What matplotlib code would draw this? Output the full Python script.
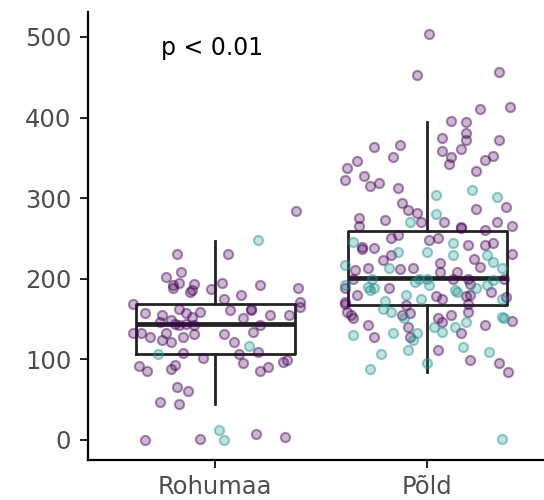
#!/usr/bin/env python3

# Import special modules ...
import matplotlib
matplotlib.use("Agg")
import matplotlib.colors
import matplotlib.pyplot

# Configure matplotlib ...
matplotlib.pyplot.rcParams.update({"font.family" : ["DejaVu Sans"]})

# ******************************************************************************

# Define categories ...
categories = ["Rohumaa", "Põld"]

# Define group colours (0 = purple, 1 = teal) ...
colours = ["#440154", "#21908C"]

# Define Rohumaa points (value, jitter, group) ...
rohu_val = [284, 248, 231, 231, 208, 202, 195, 194, 188, 186, 195, 192, 188, 187, 180, 175,
            168, 171, 165, 163, 158, 159, 161, 161, 155, 155, 155, 153, 149, 151, 146, 142,
            142, 132, 132, 128, 132, 128, 131, 131, 134, 124, 122, 122, 117, 106, 108, 106,
            109, 101, 99, 92, 86, 88, 93, 95, 86, 91, 66, 61, 47, 44, 0, 1, 12, 0, 7, 4,
            192, 184, 157, 144, 142, 163, 144, 97]
rohu_jit = [0.38, 0.20, -0.18, 0.06, -0.16, -0.23, -0.17, -0.10, -0.20, -0.11, 0.03, 0.21, 0.39, -0.02, 0.12, 0.04,
            -0.39, 0.40, 0.40, -0.17, -0.33, -0.07, 0.07, 0.17, 0.26, 0.35, -0.25, -0.11, -0.21, 0.13, -0.26, -0.17,
            0.21, -0.39, -0.35, -0.31, -0.23, -0.15, -0.10, 0.04, 0.18, -0.25, -0.21, 0.09, 0.16, -0.27, -0.15, 0.11,
            0.20, -0.06, 0.34, -0.36, -0.32, -0.21, -0.19, 0.13, 0.21, 0.25, -0.18, -0.13, -0.26, -0.17, -0.33, -0.07, 0.02, 0.04, 0.19, 0.33,
            -0.20, -0.12, -0.14, -0.14, -0.10, 0.17, -0.19, 0.32]
rohu_grp = [0, 1, 0, 0, 0, 0, 0, 0, 0, 0, 0, 0, 0, 0, 0, 0,
            0, 0, 0, 0, 0, 0, 0, 0, 0, 0, 0, 0, 0, 0, 0, 0,
            0, 0, 0, 0, 0, 0, 0, 0, 0, 0, 0, 0, 1, 1, 0, 0,
            0, 0, 0, 0, 0, 0, 0, 0, 0, 0, 0, 0, 0, 0, 0, 0, 1, 1, 0, 0,
            0, 0, 0, 0, 0, 0, 0, 0]

# Define Põld points (value, jitter, group) ...
pold_val = [504, 453, 457, 411, 413, 396, 394, 381, 372, 361, 375, 372, 358, 351, 342, 352,
            347, 334, 366, 363, 351, 346, 337, 322, 328, 315, 319, 312, 294, 304, 310, 301,
            289, 286, 285, 281, 280, 270, 270, 275, 273, 270, 270, 266, 263, 260, 266,
            246, 237, 238, 250, 254, 248, 250, 233, 244, 242, 242, 244, 231, 233,
            217, 211, 213, 223, 213, 212, 213, 219, 229, 225, 215, 221, 213, 200,
            200, 200, 200, 200, 200, 200, 199,
            188, 180, 186, 188, 172, 180, 175, 179, 175, 186, 179, 188, 183, 175, 169, 167, 169, 177,
            159, 151, 142, 130, 128, 159, 157, 151, 140, 132, 132, 124, 140, 146, 155, 140,
            132, 159, 146, 142, 153, 147, 107, 88, 111, 95, 111, 99, 115, 109, 95, 84, 1,
            229, 208, 208, 229, 264, 239,
            188, 184, 180, 171, 155, 163, 155, 151, 134, 128, 151,
            192, 190, 196, 192, 194, 192]
pold_jit = [0.01, -0.05, 0.34, 0.25, 0.39, 0.11, 0.18, 0.18, 0.18, 0.16, 0.07, 0.34, 0.07, 0.11, 0.10, 0.31,
            0.27, 0.23, -0.13, -0.25, -0.16, -0.33, -0.38, -0.39, -0.30, -0.27, -0.23, -0.14, -0.12, 0.04, 0.21, 0.33,
            0.37, 0.23, -0.09, -0.05, 0.04, -0.03, -0.08, -0.32, -0.20, 0.08, 0.33, 0.40, 0.16, 0.27, -0.32,
            -0.35, -0.31, -0.25, -0.17, -0.14, 0.01, 0.05, 0.00, 0.12, 0.19, 0.27, 0.31, 0.40, -0.14,
            -0.39, -0.34, -0.28, -0.21, -0.18, -0.13, -0.07, 0.06, 0.12, 0.22, 0.25, 0.31, 0.35, 0.36,
            -0.35, -0.26, -0.04, 0.00, 0.12, 0.19, 0.31,
            -0.39, -0.33, -0.27, -0.18, -0.20, -0.10, -0.03, 0.04, 0.07, 0.13, 0.18, 0.23, 0.30, 0.35, -0.39, -0.10, 0.19, 0.37,
            -0.38, -0.35, -0.28, -0.35, -0.25, -0.17, -0.08, -0.11, -0.09, -0.05, -0.16, -0.07, 0.03, 0.07, 0.11, 0.13,
            0.16, 0.19, 0.18, 0.27, 0.35, 0.40, -0.22, -0.27, -0.09, 0.00, 0.05, 0.20, 0.17, 0.29, 0.34, 0.38, 0.35,
            -0.17, 0.06, 0.14, 0.28, 0.16, -0.31,
            -0.25, 0.14, 0.20, -0.39, -0.36, -0.21, -0.12, 0.05, 0.07, -0.08, 0.36,
            -0.39, -0.28, -0.06, 0.01, 0.20, 0.28]
pold_grp = [0, 0, 0, 0, 0, 0, 0, 0, 0, 0, 0, 0, 0, 0, 0, 0,
            0, 0, 0, 0, 0, 0, 0, 0, 0, 0, 0, 0, 0, 1, 1, 1,
            0, 0, 0, 0, 1, 0, 1, 0, 0, 0, 0, 0, 0, 0, 0,
            1, 0, 0, 0, 0, 0, 0, 1, 1, 0, 0, 0, 0, 1,
            1, 0, 0, 0, 1, 0, 0, 0, 1, 0, 0, 1, 1, 0,
            0, 1, 1, 1, 0, 0, 1,
            0, 0, 1, 0, 1, 1, 1, 0, 0, 1, 0, 1, 0, 1, 0, 0, 0, 0,
            0, 0, 0, 1, 0, 1, 0, 1, 0, 1, 1, 1, 1, 0, 0, 1,
            0, 0, 1, 0, 1, 0, 1, 1, 1, 1, 0, 0, 1, 1, 0, 0, 1,
            0, 0, 0, 1, 0, 0,
            1, 1, 0, 0, 0, 1, 0, 0, 1, 0, 1,
            1, 1, 1, 1, 0, 1]

# Define box statistics (lower whisker, Q1, median, Q3, upper whisker) ...
box_lo  = [45, 84]
box_q1  = [107, 167]
box_med = [144, 201]
box_q3  = [169, 259]
box_hi  = [247, 395]

# Define y-axis ticks and annotation ...
yticks = [0, 100, 200, 300, 400, 500]
ptext = "p < 0.01"

# ******************************************************************************

# Create plot ...
fg = matplotlib.pyplot.figure(figsize = (5.44, 5.00), dpi = 100)
ax = fg.add_axes([88 / 544, 40 / 500, 1.0 - 88 / 544, 448 / 500])

# Add boxes ...
stats = []
for i in range(len(categories)):
    stats.append({"whislo" : box_lo[i], "q1" : box_q1[i], "med" : box_med[i], "q3" : box_q3[i], "whishi" : box_hi[i], "fliers" : []})
ax.bxp(
    stats,
    positions = [1, 2],
    widths = 0.75,
    showcaps = False,
    boxprops = {"color" : "#222222", "linewidth" : 2.0},
    whiskerprops = {"color" : "#222222", "linewidth" : 2.0},
    medianprops = {"color" : "#222222", "linewidth" : 3.4},
    zorder = 2,
)

# Add jittered points ...
for pos, vals, jits, grps in [(1, rohu_val, rohu_jit, rohu_grp), (2, pold_val, pold_jit, pold_grp)]:
    for g in [0, 1]:
        xs = [pos + j for j, gg in zip(jits, grps) if gg == g]
        ys = [v for v, gg in zip(vals, grps) if gg == g]
        ax.scatter(
            xs, ys, s = 44,
            facecolors = [matplotlib.colors.to_rgba(colours[g], 0.28)],
            edgecolors = [matplotlib.colors.to_rgba(colours[g], 0.45)],
            linewidths = 1.5,
            zorder = 3,
        )

# Add annotation ...
ax.text(0.985, 478, ptext, ha = "center", va = "baseline", fontsize = 17, color = "black")

# Configure axes ...
ax.set_xlim(0.4, 2.55)
ax.set_ylim(-25, 531)
ax.set_xticks([1, 2])
ax.set_xticklabels(categories)
ax.set_yticks(yticks)
for side in ["top", "right"]:
    ax.spines[side].set_visible(False)
for side in ["left", "bottom"]:
    ax.spines[side].set_linewidth(1.6)
ax.tick_params(axis = "both", length = 6, width = 1.4, labelsize = 17.5, labelcolor = "#4d4d4d", color = "#222222")
ax.tick_params(axis = "y", pad = 6)
ax.tick_params(axis = "x", pad = 5)

# Save plot ...
fg.savefig("out.png", dpi = 100)
matplotlib.pyplot.close(fg)
